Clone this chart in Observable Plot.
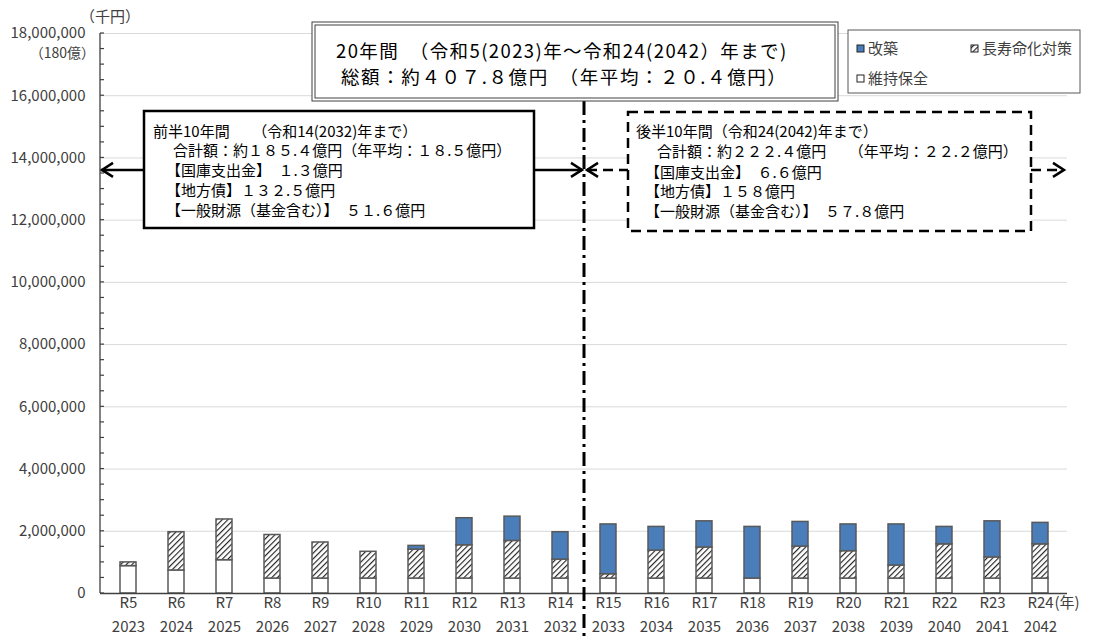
<!DOCTYPE html>
<html><head><meta charset="utf-8">
<script src="https://cdn.jsdelivr.net/npm/d3@7"></script>
<script src="https://cdn.jsdelivr.net/npm/@observablehq/plot@0.6"></script>
<style>
body{margin:0;background:#fff;}
svg{font-family:"Noto Sans CJK JP","Noto Sans",sans-serif;}
</style>
</head><body><div id="chart"></div>
<script>
// ---- data ----
const eras = ["R5","R6","R7","R8","R9","R10","R11","R12","R13","R14","R15","R16","R17","R18","R19","R20","R21","R22","R23","R24"];
const years = ["2023","2024","2025","2026","2027","2028","2029","2030","2031","2032","2033","2034","2035","2036","2037","2038","2039","2040","2041","2042"];
const maintenance = [880000,740000,1070000,480000,480000,480000,480000,480000,480000,480000,480000,480000,480000,480000,480000,480000,480000,480000,480000,480000];
const longevity = [120000,1230000,1310000,1400000,1160000,860000,930000,1070000,1210000,610000,140000,900000,1000000,0,1030000,880000,420000,1100000,680000,1100000];
const renovation = [0,0,0,0,0,0,120000,870000,780000,880000,1600000,760000,840000,1660000,790000,860000,1320000,560000,1160000,690000];
const seriesNames = ["維持保全","長寿命化対策","改築"];
const seriesFills = ["#ffffff","url(#hatch)","#4a7ebb"];
const yTicks = [0,2000000,4000000,6000000,8000000,10000000,12000000,14000000,16000000,18000000];
const minorTicks = d3.range(0, 18000001, 500000);
const unitLabel = "（千円）";
const topLabelNote = "（180億）";
const yearUnit = "(年)";
const titleLines = ["20年間　（令和5(2023)年～令和24(2042）年まで)","総額：約４０７.８億円　（年平均：２０.４億円）"];
const firstHalf = ["前半10年間　　（令和14(2032)年まで）","合計額：約１８５.４億円（年平均：１８.５億円）","【国庫支出金】　１.３億円","【地方債】１３２.５億円","【一般財源（基金含む）】　５１.６億円"];
const secondHalf = ["後半10年間（令和24(2042)年まで）","合計額：約２２２.４億円　　（年平均：２２.２億円）","【国庫支出金】　６.６億円","【地方債】１５８億円","【一般財源（基金含む）】　５７.８億円"];
const legendItems = [{name:"改築"},{name:"長寿命化対策"},{name:"維持保全"}];

const seriesValues = [maintenance, longevity, renovation];
const rows = [];
seriesNames.forEach((name, s) => eras.forEach((era, i) => {
  if (seriesValues[s][i] > 0) rows.push({era, type: name, value: seriesValues[s][i]});
}));

const plot = Plot.plot({
  width: 1093, height: 641,
  marginLeft: 100, marginRight: 26, marginTop: 33, marginBottom: 48,
  style: {fontFamily: '"Noto Sans CJK JP","Noto Sans",sans-serif', fontSize: "15px", color: "#404040", background: "#fff", overflow: "visible"},
  x: {domain: eras, paddingInner: 0.67, paddingOuter: 0.335, axis: null},
  y: {domain: [0, 18000000], axis: null},
  color: {domain: seriesNames, range: seriesFills},
  marks: [
    Plot.gridY(yTicks, {stroke: "#d9d9d9", strokeOpacity: 1, strokeWidth: 1}),
    Plot.barY(rows, Plot.stackY({x: "era", y: "value", fill: "type", stroke: "#595959", strokeWidth: 1.5})),
    Plot.ruleY([0], {stroke: "#404040", strokeWidth: 1.3}),
    Plot.axisY({ticks: yTicks, tickFormat: d3.format(","), tickSize: 0, tickPadding: 15, fontSize: 15, label: null, fill: "#404040"}),
    Plot.text(eras, {x: d => d, frameAnchor: "bottom", dy: 14, text: d => d, fontSize: 15, fill: "#404040"}),
    Plot.text(years, {x: (d, i) => eras[i], frameAnchor: "bottom", dy: 38, text: d => d, fontSize: 15, fill: "#404040"}),
    Plot.text([eras[eras.length - 1]], {x: d => d, frameAnchor: "bottom", dy: 14, dx: 14, textAnchor: "start", text: () => yearUnit, fontSize: 15, fill: "#404040"})
  ]
});

document.getElementById("chart").appendChild(plot);
const svg = d3.select(plot);
const xs = plot.scale("x"), ys = plot.scale("y");
const bw = xs.bandwidth;

// pattern
const defs = svg.insert("defs", ":first-child");
const pat = defs.append("pattern").attr("id", "hatch").attr("patternUnits", "userSpaceOnUse")
  .attr("width", 4).attr("height", 4).attr("patternTransform", "rotate(45)");
pat.append("rect").attr("width", 4).attr("height", 4).attr("fill", "#fff");
pat.append("line").attr("x1", 0.5).attr("y1", 0).attr("x2", 0.5).attr("y2", 4).attr("stroke", "#222").attr("stroke-width", 1.3);

const g = svg.append("g").attr("text-anchor", "start");
const x0 = 100;
// y axis line + inward ticks
g.append("line").attr("x1", x0).attr("x2", x0).attr("y1", ys.apply(18000000)).attr("y2", ys.apply(0)).attr("stroke", "#404040").attr("stroke-width", 1.3);
minorTicks.forEach(t => g.append("line").attr("x1", x0).attr("x2", x0 + 4).attr("y1", ys.apply(t)).attr("y2", ys.apply(t)).attr("stroke", "#404040").attr("stroke-width", 1.2));
g.append("text").attr("x", 110).attr("y", 22).attr("text-anchor", "middle").attr("font-size", 15).attr("fill", "#404040").text(unitLabel);
g.append("text").attr("x", 95).attr("y", ys.apply(18000000) + 25).attr("text-anchor", "end").attr("font-size", 14).attr("fill", "#404040").text(topLabelNote);

// divider dash-dot
const xDiv = (xs.apply("R14") + xs.apply("R15")) / 2 + bw / 2;
g.append("line").attr("x1", xDiv).attr("x2", xDiv).attr("y1", 101).attr("y2", 641).attr("stroke", "#000").attr("stroke-width", 3).attr("stroke-dasharray", "14,5,3,5");

// title box (double border)
g.append("rect").attr("x", 312).attr("y", 22).attr("width", 526).attr("height", 79).attr("fill", "#fff").attr("stroke", "#404040").attr("stroke-width", 1);
g.append("rect").attr("x", 315).attr("y", 25).attr("width", 520).attr("height", 73).attr("fill", "none").attr("stroke", "#404040").attr("stroke-width", 1);
g.append("text").attr("x", 336).attr("y", 58).attr("font-size", 18.5).attr("letter-spacing", "1.4px").attr("fill", "#000").text(titleLines[0]);
g.append("text").attr("x", 341).attr("y", 84).attr("font-size", 18.5).attr("letter-spacing", "1.6px").attr("fill", "#000").text(titleLines[1]);

// legend box
g.append("rect").attr("x", 848).attr("y", 30).attr("width", 232).attr("height", 63).attr("fill", "#fff").attr("stroke", "#595959").attr("stroke-width", 1);
const legPos = [[857, 49], [971, 49], [857, 79]];
const legFill = {"改築": seriesFills[2], "長寿命化対策": seriesFills[1], "維持保全": seriesFills[0]};
legendItems.forEach((d, i) => {
  const [lx, ly] = legPos[i];
  g.append("rect").attr("x", lx).attr("y", ly - 4).attr("width", 7).attr("height", 7).attr("fill", legFill[d.name]).attr("stroke", "#222").attr("stroke-width", 1);
  g.append("text").attr("x", lx + 11).attr("y", ly + 5).attr("font-size", 15).attr("fill", "#404040").text(d.name);
});

// arrows
const yArrow = ys.apply(13600000);
function chevron(x, dir) {
  g.append("path").attr("d", `M${x - dir * 11},${yArrow - 7}L${x},${yArrow}L${x - dir * 11},${yArrow + 7}`)
    .attr("fill", "none").attr("stroke", "#000").attr("stroke-width", 2.5);
}
g.append("line").attr("x1", x0 + 1).attr("x2", 144).attr("y1", yArrow).attr("y2", yArrow).attr("stroke", "#000").attr("stroke-width", 2.5);
chevron(x0 + 2, -1);
g.append("line").attr("x1", 534).attr("x2", xDiv - 2).attr("y1", yArrow).attr("y2", yArrow).attr("stroke", "#000").attr("stroke-width", 2.5);
chevron(xDiv - 2, 1);
g.append("line").attr("x1", xDiv + 3).attr("x2", 628).attr("y1", yArrow).attr("y2", yArrow).attr("stroke", "#000").attr("stroke-width", 2.5).attr("stroke-dasharray", "10,6");
chevron(xDiv + 3, -1);
g.append("line").attr("x1", 1031).attr("x2", 1063).attr("y1", yArrow).attr("y2", yArrow).attr("stroke", "#000").attr("stroke-width", 2.5).attr("stroke-dasharray", "10,6");
chevron(1064, 1);

// first half box
g.append("rect").attr("x", 144).attr("y", 111).attr("width", 390).attr("height", 117).attr("fill", "#fff").attr("stroke", "#000").attr("stroke-width", 2.5);
const lineY = [137, 156, 176, 196, 216];
firstHalf.forEach((t, i) => g.append("text").attr("x", i === 0 ? 153 : (i === 1 ? 173 : 166)).attr("y", lineY[i]).attr("font-size", 15).attr("fill", "#000").text(t));
// second half box
g.append("rect").attr("x", 628).attr("y", 112).attr("width", 403).attr("height", 119).attr("fill", "#fff").attr("stroke", "#000").attr("stroke-width", 2.5).attr("stroke-dasharray", "10,6");
const lineY2 = [137, 157, 178, 197, 217];
secondHalf.forEach((t, i) => g.append("text").attr("x", i === 0 ? 636 : (i === 1 ? 657 : 645)).attr("y", lineY2[i]).attr("font-size", 15).attr("fill", "#000").text(t));
</script>
</body></html>
